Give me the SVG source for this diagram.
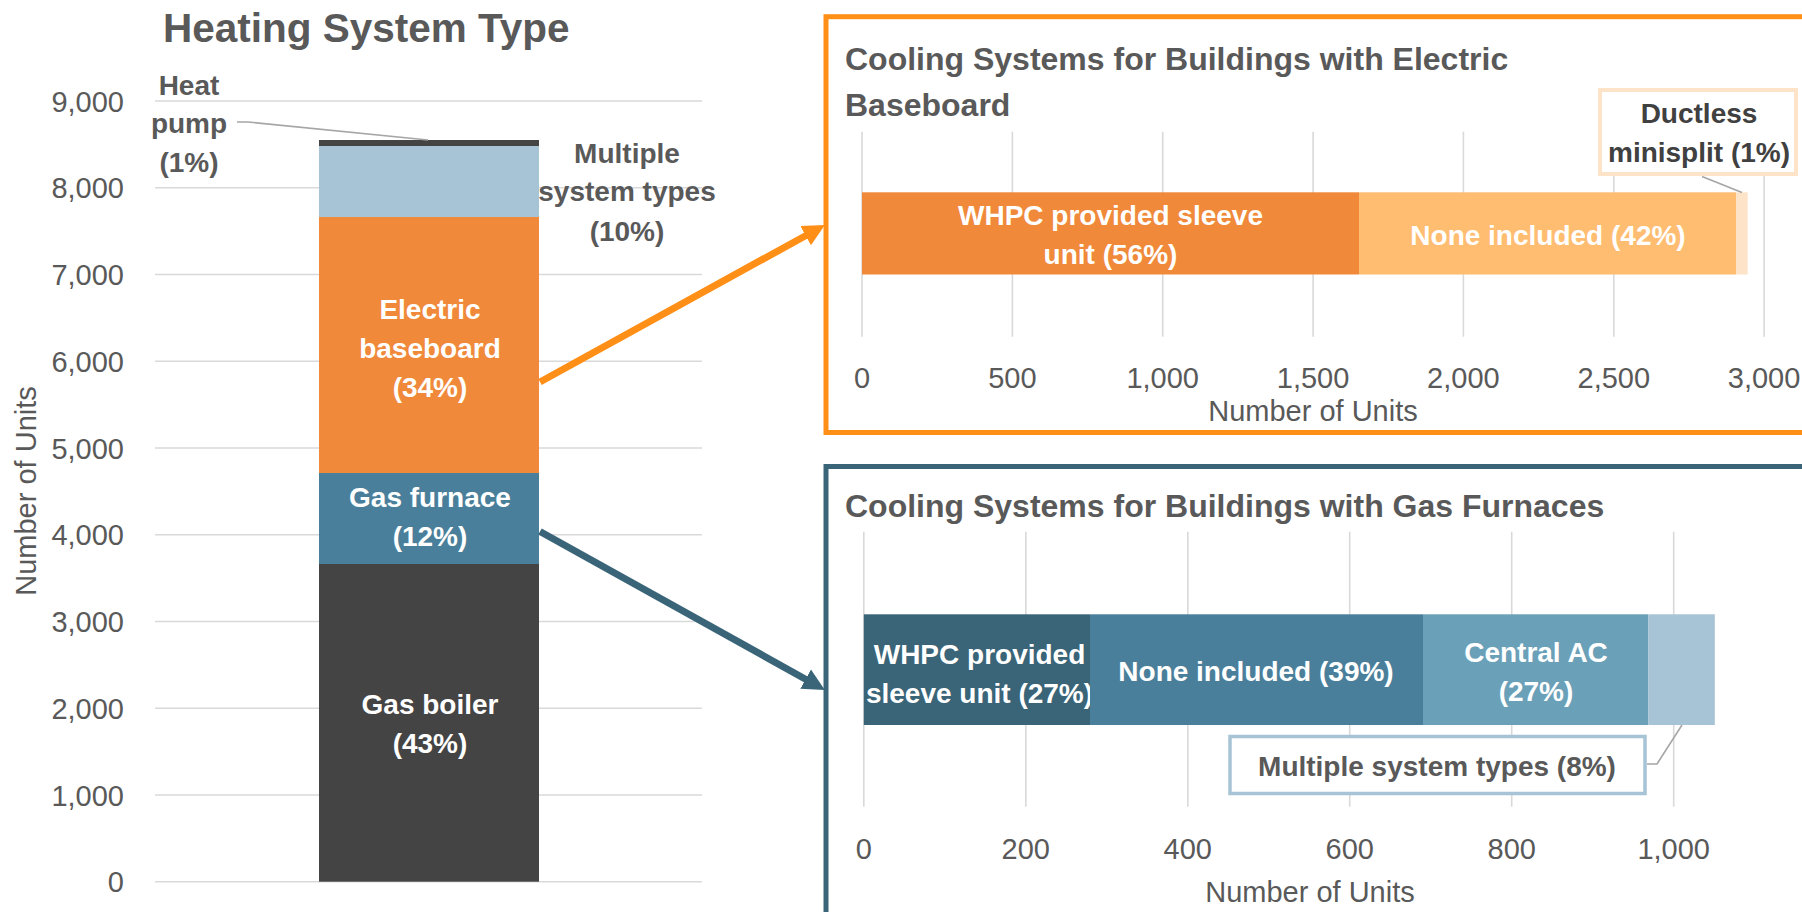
<svg xmlns="http://www.w3.org/2000/svg" width="1802" height="912" viewBox="0 0 1802 912">
  <style>
    text { font-family: "Liberation Sans", Arial, sans-serif; }
    .title { font-size: 40.5px; font-weight: bold; fill: #595959; }
    .subtitle { font-size: 32px; font-weight: bold; fill: #595959; }
    .tick { font-size: 29px; fill: #595959; }
    .axis { font-size: 29px; fill: #595959; }
    .lbl { font-size: 28px; font-weight: bold; fill: #ffffff; text-anchor: middle; }
    .out { font-size: 28px; font-weight: bold; fill: #595959; text-anchor: middle; }
    .call { font-size: 28px; font-weight: bold; fill: #404040; text-anchor: middle; }
    .grid { stroke: #d9d9d9; stroke-width: 1.6; fill: none; }
    .leader { stroke: #a6a6a6; stroke-width: 1.6; fill: none; }
  </style>
  <defs>
    <marker id="headOrange" markerUnits="userSpaceOnUse" markerWidth="24" markerHeight="24" viewBox="0 -12 24 24" refX="1" refY="0" orient="auto">
      <path d="M0,-11 L22,0 L0,11 Z" fill="#ff8f17"/>
    </marker>
    <marker id="headTeal" markerUnits="userSpaceOnUse" markerWidth="24" markerHeight="24" viewBox="0 -12 24 24" refX="1" refY="0" orient="auto">
      <path d="M0,-11 L22,0 L0,11 Z" fill="#3a6478"/>
    </marker>
  </defs>
  <rect width="1802" height="912" fill="#ffffff"/>

  <!-- Heating system type: stacked column -->
  <g id="heating-chart">
    <text class="title" x="163" y="42">Heating System Type</text>
    <g class="grid">
      <line x1="155" y1="881.7" x2="702" y2="881.7"/>
      <line x1="155" y1="795" x2="702" y2="795"/>
      <line x1="155" y1="708.2" x2="702" y2="708.2"/>
      <line x1="155" y1="621.5" x2="702" y2="621.5"/>
      <line x1="155" y1="534.7" x2="702" y2="534.7"/>
      <line x1="155" y1="448" x2="702" y2="448"/>
      <line x1="155" y1="361.3" x2="702" y2="361.3"/>
      <line x1="155" y1="274.5" x2="702" y2="274.5"/>
      <line x1="155" y1="187.8" x2="702" y2="187.8"/>
      <line x1="155" y1="101" x2="702" y2="101"/>
    </g>
    <g class="tick" text-anchor="end">
      <text x="124" y="892.2">0</text>
      <text x="124" y="805.5">1,000</text>
      <text x="124" y="718.7">2,000</text>
      <text x="124" y="632">3,000</text>
      <text x="124" y="545.2">4,000</text>
      <text x="124" y="458.5">5,000</text>
      <text x="124" y="371.8">6,000</text>
      <text x="124" y="285">7,000</text>
      <text x="124" y="198.3">8,000</text>
      <text x="124" y="111.5">9,000</text>
    </g>
    <text class="axis" text-anchor="middle" transform="translate(36,491) rotate(-90)">Number of Units</text>
  </g>

  <g id="seg-gas-boiler">
    <rect x="319" y="564" width="220" height="317.7" fill="#444444"/>
    <text class="lbl" x="430" y="714">Gas boiler</text>
    <text class="lbl" x="430" y="753">(43%)</text>
  </g>
  <g id="seg-gas-furnace">
    <rect x="319" y="473" width="220" height="91" fill="#4a7f9b"/>
    <text class="lbl" x="430" y="507">Gas furnace</text>
    <text class="lbl" x="430" y="546">(12%)</text>
  </g>
  <g id="seg-electric-baseboard">
    <rect x="319" y="217" width="220" height="256" fill="#f0893a"/>
    <text class="lbl" x="430" y="319">Electric</text>
    <text class="lbl" x="430" y="358">baseboard</text>
    <text class="lbl" x="430" y="397">(34%)</text>
  </g>
  <g id="seg-multiple">
    <rect x="319" y="146" width="220" height="71" fill="#a6c4d5"/>
    <text class="out" x="627" y="163">Multiple</text>
    <text class="out" x="627" y="201">system types</text>
    <text class="out" x="627" y="241">(10%)</text>
  </g>
  <g id="seg-heat-pump">
    <rect x="319" y="140" width="220" height="6" fill="#444444"/>
    <text class="out" x="189" y="95">Heat</text>
    <text class="out" x="189" y="133">pump</text>
    <text class="out" x="189" y="172">(1%)</text>
    <polyline class="leader" points="237,122 248,122 428,140"/>
  </g>

  <!-- Cooling systems, electric baseboard buildings -->
  <g id="electric-cooling">
    <rect x="826" y="16.7" width="1000" height="415.8" fill="none" stroke="#ff8f17" stroke-width="5"/>
    <text class="subtitle" x="845" y="70">Cooling Systems for Buildings with Electric</text>
    <text class="subtitle" x="845" y="116">Baseboard</text>
    <g class="grid">
      <line x1="862" y1="131.7" x2="862" y2="336.7"/>
      <line x1="1012.4" y1="131.7" x2="1012.4" y2="336.7"/>
      <line x1="1162.7" y1="131.7" x2="1162.7" y2="336.7"/>
      <line x1="1313.1" y1="131.7" x2="1313.1" y2="336.7"/>
      <line x1="1463.4" y1="131.7" x2="1463.4" y2="336.7"/>
      <line x1="1613.8" y1="131.7" x2="1613.8" y2="336.7"/>
      <line x1="1764.1" y1="131.7" x2="1764.1" y2="336.7"/>
    </g>
    <g class="tick" text-anchor="middle">
      <text x="862" y="387.5">0</text>
      <text x="1012.4" y="387.5">500</text>
      <text x="1162.7" y="387.5">1,000</text>
      <text x="1313.1" y="387.5">1,500</text>
      <text x="1463.4" y="387.5">2,000</text>
      <text x="1613.8" y="387.5">2,500</text>
      <text x="1764.1" y="387.5">3,000</text>
    </g>
    <text class="axis" x="1313" y="420.5" text-anchor="middle">Number of Units</text>
  </g>
  <g id="ec-whpc-sleeve">
    <rect x="862" y="192.3" width="497" height="82.2" fill="#f0893a"/>
    <text class="lbl" x="1110.5" y="225">WHPC provided sleeve</text>
    <text class="lbl" x="1110.5" y="263.5">unit (56%)</text>
  </g>
  <g id="ec-none-included">
    <rect x="1359" y="192.3" width="377" height="82.2" fill="#ffbd71"/>
    <text class="lbl" x="1548" y="244.5">None included (42%)</text>
  </g>
  <g id="ec-ductless">
    <rect x="1736" y="192.3" width="11.7" height="82.2" fill="#fde4c8"/>
    <rect x="1600" y="90" width="196" height="84" fill="#ffffff" stroke="#fde4c8" stroke-width="4"/>
    <text class="call" x="1699" y="123">Ductless</text>
    <text class="call" x="1699" y="162">minisplit (1%)</text>
    <line class="leader" x1="1702" y1="176.5" x2="1742" y2="192.5"/>
  </g>

  <!-- Cooling systems, gas furnace buildings -->
  <g id="furnace-cooling">
    <rect x="826" y="466.5" width="1000" height="500" fill="none" stroke="#3a6478" stroke-width="5"/>
    <text class="subtitle" x="845" y="517">Cooling Systems for Buildings with Gas Furnaces</text>
    <g class="grid">
      <line x1="863.8" y1="531.7" x2="863.8" y2="806.7"/>
      <line x1="1025.8" y1="531.7" x2="1025.8" y2="806.7"/>
      <line x1="1187.8" y1="531.7" x2="1187.8" y2="806.7"/>
      <line x1="1349.7" y1="531.7" x2="1349.7" y2="806.7"/>
      <line x1="1511.7" y1="531.7" x2="1511.7" y2="806.7"/>
      <line x1="1673.7" y1="531.7" x2="1673.7" y2="806.7"/>
    </g>
    <g class="tick" text-anchor="middle">
      <text x="863.8" y="858.5">0</text>
      <text x="1025.8" y="858.5">200</text>
      <text x="1187.8" y="858.5">400</text>
      <text x="1349.7" y="858.5">600</text>
      <text x="1511.7" y="858.5">800</text>
      <text x="1673.7" y="858.5">1,000</text>
    </g>
    <text class="axis" x="1310" y="901.5" text-anchor="middle">Number of Units</text>
  </g>
  <g id="gf-whpc-sleeve">
    <rect x="863.8" y="614.3" width="226.2" height="110.7" fill="#3a6478"/>
    <text class="lbl" x="979.5" y="663.5">WHPC provided</text>
    <text class="lbl" x="979.5" y="702.5">sleeve unit (27%)</text>
  </g>
  <g id="gf-none-included">
    <rect x="1090" y="614.3" width="333" height="110.7" fill="#4a7f9b"/>
    <text class="lbl" x="1256" y="680.5">None included (39%)</text>
  </g>
  <g id="gf-central-ac">
    <rect x="1423" y="614.3" width="225.3" height="110.7" fill="#6ba0b9"/>
    <text class="lbl" x="1536" y="661.5">Central AC</text>
    <text class="lbl" x="1536" y="700.5">(27%)</text>
  </g>
  <g id="gf-multiple">
    <rect x="1648.3" y="614.3" width="66.5" height="110.7" fill="#a6c4d5"/>
    <rect x="1230" y="736.5" width="415" height="57" fill="#ffffff" stroke="#a6c4d5" stroke-width="3.5"/>
    <text class="call" x="1437" y="775.5" fill="#595959" style="fill:#595959">Multiple system types (8%)</text>
    <polyline class="leader" points="1647,764 1657,764 1682,725"/>
  </g>

  <!-- links from heating segments to their cooling breakdowns -->
  <g id="connectors" fill="none" stroke-width="7">
    <line x1="540" y1="382" x2="806.5" y2="235.2" stroke="#ff8f17" marker-end="url(#headOrange)"/>
    <line x1="540" y1="531.5" x2="806.5" y2="679.7" stroke="#3a6478" marker-end="url(#headTeal)"/>
  </g>
</svg>
